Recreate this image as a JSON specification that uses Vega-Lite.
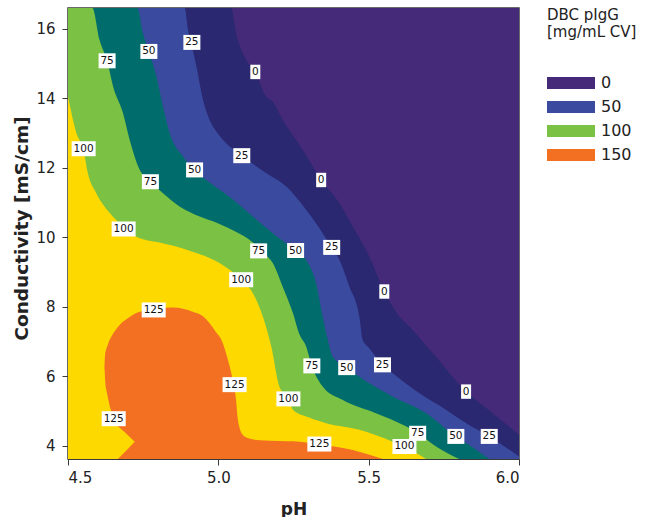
{
  "$schema": "https://vega.github.io/schema/vega-lite/v6.json",
  "width": 451,
  "height": 451,
  "padding": {"left": 12, "top": 8, "right": 0, "bottom": 0},
  "config": {
    "font": "DejaVu Sans",
    "view": {"stroke": "#3a3a3a", "strokeWidth": 1.5},
    "axis": {
      "domainColor": "#3a3a3a",
      "tickColor": "#3a3a3a",
      "labelColor": "#222222",
      "titleColor": "#222222",
      "labelFontSize": 15,
      "titleFontSize": 17,
      "titleFontWeight": "bold",
      "tickSize": 6,
      "grid": false
    }
  },
  "datasets": {
    "regions": [
      {"band": "0", "pH": 4.5, "cond": 16.6},
      {"band": "0", "pH": 6.0, "cond": 16.6},

      {"band": "25", "pH": 4.5, "cond": 16.6},
      {"band": "25", "pH": 5.043, "cond": 16.6},
      {"band": "25", "pH": 5.059, "cond": 15.88},
      {"band": "25", "pH": 5.093, "cond": 15.11},
      {"band": "25", "pH": 5.123, "cond": 14.76},
      {"band": "25", "pH": 5.159, "cond": 14.05},
      {"band": "25", "pH": 5.181, "cond": 13.9},
      {"band": "25", "pH": 5.214, "cond": 13.38},
      {"band": "25", "pH": 5.259, "cond": 12.8},
      {"band": "25", "pH": 5.281, "cond": 12.51},
      {"band": "25", "pH": 5.342, "cond": 11.65},
      {"band": "25", "pH": 5.403, "cond": 10.98},
      {"band": "25", "pH": 5.447, "cond": 10.31},
      {"band": "25", "pH": 5.502, "cond": 9.45},
      {"band": "25", "pH": 5.552, "cond": 8.44},
      {"band": "25", "pH": 5.602, "cond": 7.72},
      {"band": "25", "pH": 5.635, "cond": 7.43},
      {"band": "25", "pH": 5.713, "cond": 6.67},
      {"band": "25", "pH": 5.824, "cond": 5.56},
      {"band": "25", "pH": 5.912, "cond": 4.94},
      {"band": "25", "pH": 6.0, "cond": 4.32},

      {"band": "50", "pH": 4.5, "cond": 16.6},
      {"band": "50", "pH": 4.888, "cond": 16.6},
      {"band": "50", "pH": 4.899, "cond": 15.97},
      {"band": "50", "pH": 4.912, "cond": 15.5},
      {"band": "50", "pH": 4.927, "cond": 14.92},
      {"band": "50", "pH": 4.949, "cond": 13.96},
      {"band": "50", "pH": 4.971, "cond": 13.38},
      {"band": "50", "pH": 4.985, "cond": 13.15},
      {"band": "50", "pH": 5.015, "cond": 12.81},
      {"band": "50", "pH": 5.078, "cond": 12.35},
      {"band": "50", "pH": 5.159, "cond": 11.85},
      {"band": "50", "pH": 5.226, "cond": 11.46},
      {"band": "50", "pH": 5.292, "cond": 10.79},
      {"band": "50", "pH": 5.347, "cond": 10.12},
      {"band": "50", "pH": 5.377, "cond": 9.71},
      {"band": "50", "pH": 5.403, "cond": 9.35},
      {"band": "50", "pH": 5.436, "cond": 8.58},
      {"band": "50", "pH": 5.469, "cond": 7.72},
      {"band": "50", "pH": 5.48, "cond": 7.05},
      {"band": "50", "pH": 5.502, "cond": 6.81},
      {"band": "50", "pH": 5.546, "cond": 6.33},
      {"band": "50", "pH": 5.58, "cond": 6.09},
      {"band": "50", "pH": 5.668, "cond": 5.52},
      {"band": "50", "pH": 5.757, "cond": 5.04},
      {"band": "50", "pH": 5.83, "cond": 4.62},
      {"band": "50", "pH": 5.901, "cond": 4.27},
      {"band": "50", "pH": 6.0, "cond": 3.69},

      {"band": "75", "pH": 4.5, "cond": 16.6},
      {"band": "75", "pH": 4.731, "cond": 16.6},
      {"band": "75", "pH": 4.749, "cond": 15.88},
      {"band": "75", "pH": 4.769, "cond": 15.35},
      {"band": "75", "pH": 4.794, "cond": 14.63},
      {"band": "75", "pH": 4.816, "cond": 13.76},
      {"band": "75", "pH": 4.838, "cond": 13.0},
      {"band": "75", "pH": 4.882, "cond": 12.33},
      {"band": "75", "pH": 4.921, "cond": 11.94},
      {"band": "75", "pH": 4.96, "cond": 11.65},
      {"band": "75", "pH": 5.037, "cond": 11.17},
      {"band": "75", "pH": 5.115, "cond": 10.6},
      {"band": "75", "pH": 5.181, "cond": 10.12},
      {"band": "75", "pH": 5.257, "cond": 9.62},
      {"band": "75", "pH": 5.292, "cond": 9.35},
      {"band": "75", "pH": 5.325, "cond": 8.68},
      {"band": "75", "pH": 5.347, "cond": 7.72},
      {"band": "75", "pH": 5.364, "cond": 7.05},
      {"band": "75", "pH": 5.38, "cond": 6.57},
      {"band": "75", "pH": 5.427, "cond": 6.25},
      {"band": "75", "pH": 5.469, "cond": 5.99},
      {"band": "75", "pH": 5.58, "cond": 5.42},
      {"band": "75", "pH": 5.691, "cond": 4.94},
      {"band": "75", "pH": 5.79, "cond": 4.27},
      {"band": "75", "pH": 5.824, "cond": 4.08},
      {"band": "75", "pH": 5.901, "cond": 3.62},

      {"band": "100", "pH": 4.5, "cond": 16.6},
      {"band": "100", "pH": 4.581, "cond": 16.6},
      {"band": "100", "pH": 4.605, "cond": 15.68},
      {"band": "100", "pH": 4.63, "cond": 15.08},
      {"band": "100", "pH": 4.65, "cond": 14.34},
      {"band": "100", "pH": 4.683, "cond": 13.57},
      {"band": "100", "pH": 4.705, "cond": 12.81},
      {"band": "100", "pH": 4.738, "cond": 11.95},
      {"band": "100", "pH": 4.774, "cond": 11.6},
      {"band": "100", "pH": 4.816, "cond": 11.27},
      {"band": "100", "pH": 4.871, "cond": 10.89},
      {"band": "100", "pH": 4.938, "cond": 10.6},
      {"band": "100", "pH": 5.0, "cond": 10.4},
      {"band": "100", "pH": 5.06, "cond": 10.15},
      {"band": "100", "pH": 5.115, "cond": 9.85},
      {"band": "100", "pH": 5.15, "cond": 9.55},
      {"band": "100", "pH": 5.181, "cond": 9.26},
      {"band": "100", "pH": 5.214, "cond": 8.58},
      {"band": "100", "pH": 5.248, "cond": 7.82},
      {"band": "100", "pH": 5.27, "cond": 7.2},
      {"band": "100", "pH": 5.292, "cond": 6.86},
      {"band": "100", "pH": 5.311, "cond": 6.3},
      {"band": "100", "pH": 5.347, "cond": 5.71},
      {"band": "100", "pH": 5.414, "cond": 5.32},
      {"band": "100", "pH": 5.524, "cond": 4.94},
      {"band": "100", "pH": 5.624, "cond": 4.56},
      {"band": "100", "pH": 5.663, "cond": 4.36},
      {"band": "100", "pH": 5.724, "cond": 3.98},
      {"band": "100", "pH": 5.801, "cond": 3.62},

      {"band": "125", "pH": 4.5, "cond": 14.05},
      {"band": "125", "pH": 4.528, "cond": 13.0},
      {"band": "125", "pH": 4.552, "cond": 12.5},
      {"band": "125", "pH": 4.566, "cond": 11.85},
      {"band": "125", "pH": 4.594, "cond": 11.27},
      {"band": "125", "pH": 4.639, "cond": 10.7},
      {"band": "125", "pH": 4.685, "cond": 10.3},
      {"band": "125", "pH": 4.727, "cond": 10.02},
      {"band": "125", "pH": 4.805, "cond": 9.85},
      {"band": "125", "pH": 4.882, "cond": 9.68},
      {"band": "125", "pH": 4.927, "cond": 9.55},
      {"band": "125", "pH": 5.004, "cond": 9.26},
      {"band": "125", "pH": 5.076, "cond": 8.78},
      {"band": "125", "pH": 5.115, "cond": 8.39},
      {"band": "125", "pH": 5.148, "cond": 7.72},
      {"band": "125", "pH": 5.175, "cond": 6.9},
      {"band": "125", "pH": 5.203, "cond": 5.71},
      {"band": "125", "pH": 5.233, "cond": 5.35},
      {"band": "125", "pH": 5.248, "cond": 5.04},
      {"band": "125", "pH": 5.3, "cond": 4.82},
      {"band": "125", "pH": 5.358, "cond": 4.65},
      {"band": "125", "pH": 5.469, "cond": 4.46},
      {"band": "125", "pH": 5.58, "cond": 4.12},
      {"band": "125", "pH": 5.619, "cond": 3.98},
      {"band": "125", "pH": 5.69, "cond": 3.62}
    ],
    "blob": [
      {"band": "150", "pH": 4.621, "cond": 6.2, "cond2": 3.62},
      {"band": "150", "pH": 4.623, "cond": 6.6, "cond2": 3.62},
      {"band": "150", "pH": 4.632, "cond": 6.9, "cond2": 3.62},
      {"band": "150", "pH": 4.645, "cond": 7.15, "cond2": 3.62},
      {"band": "150", "pH": 4.672, "cond": 7.48, "cond2": 3.62},
      {"band": "150", "pH": 4.7, "cond": 7.68, "cond2": 3.62},
      {"band": "150", "pH": 4.727, "cond": 7.82, "cond2": 3.62},
      {"band": "150", "pH": 4.785, "cond": 7.94, "cond2": 3.62},
      {"band": "150", "pH": 4.849, "cond": 7.98, "cond2": 3.62},
      {"band": "150", "pH": 4.915, "cond": 7.86, "cond2": 3.62},
      {"band": "150", "pH": 4.95, "cond": 7.72, "cond2": 3.62},
      {"band": "150", "pH": 4.971, "cond": 7.53, "cond2": 3.62},
      {"band": "150", "pH": 4.99, "cond": 7.3, "cond2": 3.62},
      {"band": "150", "pH": 5.01, "cond": 7.05, "cond2": 3.62},
      {"band": "150", "pH": 5.032, "cond": 6.47, "cond2": 3.62},
      {"band": "150", "pH": 5.048, "cond": 5.9, "cond2": 3.62},
      {"band": "150", "pH": 5.059, "cond": 5.32, "cond2": 3.62},
      {"band": "150", "pH": 5.065, "cond": 4.75, "cond2": 3.62},
      {"band": "150", "pH": 5.081, "cond": 4.32, "cond2": 3.62},
      {"band": "150", "pH": 5.1, "cond": 4.22, "cond2": 3.62},
      {"band": "150", "pH": 5.137, "cond": 4.16, "cond2": 3.62},
      {"band": "150", "pH": 5.203, "cond": 4.14, "cond2": 3.62},
      {"band": "150", "pH": 5.248, "cond": 4.13, "cond2": 3.62},
      {"band": "150", "pH": 5.336, "cond": 4.04, "cond2": 3.62},
      {"band": "150", "pH": 5.447, "cond": 3.88, "cond2": 3.62},
      {"band": "150", "pH": 5.5, "cond": 3.75, "cond2": 3.62},
      {"band": "150", "pH": 5.547, "cond": 3.62, "cond2": 3.62}
    ],
    "wedge": [
      {"band": "125", "pH": 4.6, "cond": 6.2, "cond2": 3.62},
      {"band": "125", "pH": 4.621, "cond": 6.2, "cond2": 3.62},
      {"band": "125", "pH": 4.625, "cond": 5.71, "cond2": 3.62},
      {"band": "125", "pH": 4.639, "cond": 5.13, "cond2": 3.62},
      {"band": "125", "pH": 4.652, "cond": 4.78, "cond2": 3.62},
      {"band": "125", "pH": 4.666, "cond": 4.56, "cond2": 3.62},
      {"band": "125", "pH": 4.69, "cond": 4.38, "cond2": 3.83},
      {"band": "125", "pH": 4.722, "cond": 4.12, "cond2": 4.12}
    ],
    "labels": [
      {"pH": 5.123, "cond": 14.76, "label": 0},
      {"pH": 5.342, "cond": 11.65, "label": 0},
      {"pH": 5.552, "cond": 8.44, "label": 0},
      {"pH": 5.824, "cond": 5.56, "label": 0},
      {"pH": 4.912, "cond": 15.61, "label": 25},
      {"pH": 5.078, "cond": 12.35, "label": 25},
      {"pH": 5.377, "cond": 9.71, "label": 25},
      {"pH": 5.546, "cond": 6.33, "label": 25},
      {"pH": 5.901, "cond": 4.27, "label": 25},
      {"pH": 4.769, "cond": 15.35, "label": 50},
      {"pH": 4.921, "cond": 11.94, "label": 50},
      {"pH": 5.257, "cond": 9.62, "label": 50},
      {"pH": 5.427, "cond": 6.25, "label": 50},
      {"pH": 5.79, "cond": 4.27, "label": 50},
      {"pH": 4.63, "cond": 15.08, "label": 75},
      {"pH": 4.774, "cond": 11.6, "label": 75},
      {"pH": 5.134, "cond": 9.61, "label": 75},
      {"pH": 5.311, "cond": 6.3, "label": 75},
      {"pH": 5.663, "cond": 4.36, "label": 75},
      {"pH": 4.552, "cond": 12.55, "label": 100},
      {"pH": 4.685, "cond": 10.24, "label": 100},
      {"pH": 5.076, "cond": 8.78, "label": 100},
      {"pH": 5.233, "cond": 5.35, "label": 100},
      {"pH": 5.619, "cond": 3.98, "label": 100},
      {"pH": 4.785, "cond": 7.91, "label": 125},
      {"pH": 4.652, "cond": 4.78, "label": 125},
      {"pH": 5.054, "cond": 5.76, "label": 125},
      {"pH": 5.336, "cond": 4.05, "label": 125}
    ]
  },
  "encoding": {
    "x": {
      "field": "pH",
      "type": "quantitative",
      "title": "pH",
      "scale": {"domain": [4.5, 6.0], "nice": false, "zero": false},
      "axis": {"values": [4.5, 5.0, 5.5, 6.0], "format": ".1f", "labelPadding": 5, "titlePadding": 16}
    },
    "y": {
      "field": "cond",
      "type": "quantitative",
      "title": "Conductivity [mS/cm]",
      "stack": null,
      "scale": {"domain": [3.62, 16.6], "nice": false, "zero": false},
      "axis": {"values": [4, 6, 8, 10, 12, 14, 16], "format": "d", "labelPadding": 7, "titlePadding": 4, "titleFontSize": 18.5, "titleY": 220}
    },
    "color": {
      "field": "band",
      "type": "nominal",
      "scale": {
        "domain": ["0", "25", "50", "75", "100", "125", "150"],
        "range": ["#462a7a", "#2a2870", "#3a4a9e", "#006c6c", "#7bc143", "#fdd900", "#f37022"]
      },
      "legend": {
        "title": ["DBC pIgG", "[mg/mL CV]"],
        "values": ["0", "50", "100", "150"],
        "symbolType": "M-1,-0.5H3V0.5H-1Z",
        "symbolSize": 576,
        "symbolStrokeWidth": 0,
        "symbolOpacity": 1,
        "labelOffset": 30,
        "labelFontSize": 16,
        "labelColor": "#222222",
        "titleFontSize": 15,
        "titleFontWeight": "normal",
        "titleColor": "#222222",
        "titleLineHeight": 17,
        "titlePadding": 31,
        "rowPadding": 4,
        "offset": 28
      }
    }
  },
  "layer": [
    {
      "data": {"name": "regions"},
      "transform": [{"filter": {"field": "band", "equal": "0"}}],
      "mark": {"type": "area", "clip": true},
      "encoding": {"y2": {"datum": 3.62}}
    },
    {
      "data": {"name": "regions"},
      "transform": [{"filter": {"field": "band", "equal": "25"}}],
      "mark": {"type": "area", "interpolate": "monotone", "clip": true},
      "encoding": {"y2": {"datum": 3.62}}
    },
    {
      "data": {"name": "regions"},
      "transform": [{"filter": {"field": "band", "equal": "50"}}],
      "mark": {"type": "area", "interpolate": "monotone", "clip": true},
      "encoding": {"y2": {"datum": 3.62}}
    },
    {
      "data": {"name": "regions"},
      "transform": [{"filter": {"field": "band", "equal": "75"}}],
      "mark": {"type": "area", "interpolate": "monotone", "clip": true},
      "encoding": {"y2": {"datum": 3.62}}
    },
    {
      "data": {"name": "regions"},
      "transform": [{"filter": {"field": "band", "equal": "100"}}],
      "mark": {"type": "area", "interpolate": "monotone", "clip": true},
      "encoding": {"y2": {"datum": 3.62}}
    },
    {
      "data": {"name": "regions"},
      "transform": [{"filter": {"field": "band", "equal": "125"}}],
      "mark": {"type": "area", "interpolate": "monotone", "clip": true},
      "encoding": {"y2": {"datum": 3.62}}
    },
    {
      "data": {"name": "blob"},
      "mark": {"type": "area", "interpolate": "monotone", "clip": true},
      "encoding": {"y2": {"field": "cond2"}}
    },
    {
      "data": {"name": "wedge"},
      "mark": {"type": "area", "clip": true},
      "encoding": {"y2": {"field": "cond2"}}
    },
    {
      "data": {"name": "labels"},
      "transform": [{"filter": "datum.label < 10"}],
      "mark": {"type": "point", "filled": true, "opacity": 1, "strokeWidth": 0, "size": 400, "shape": "M-0.5,-0.72H0.5V0.72H-0.5Z"},
      "encoding": {"color": {"value": "white"}}
    },
    {
      "data": {"name": "labels"},
      "transform": [{"filter": "datum.label >= 10 && datum.label < 100"}],
      "mark": {"type": "point", "filled": true, "opacity": 1, "strokeWidth": 0, "size": 400, "shape": "M-0.85,-0.75H0.85V0.75H-0.85Z"},
      "encoding": {"color": {"value": "white"}}
    },
    {
      "data": {"name": "labels"},
      "transform": [{"filter": "datum.label >= 100"}],
      "mark": {"type": "point", "filled": true, "opacity": 1, "strokeWidth": 0, "size": 400, "shape": "M-1.2,-0.75H1.2V0.75H-1.2Z"},
      "encoding": {"color": {"value": "white"}}
    },
    {
      "data": {"name": "labels"},
      "mark": {"type": "text", "fontSize": 10.5, "align": "center", "baseline": "middle"},
      "encoding": {"text": {"field": "label"}, "color": {"value": "#111111"}}
    }
  ]
}
